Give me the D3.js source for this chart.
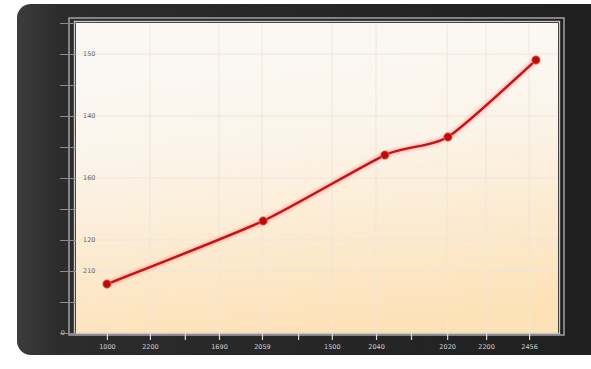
<!DOCTYPE html>
<html>
<head>
<meta charset="utf-8">
<script src="https://cdn.jsdelivr.net/npm/d3@7"></script>
<style>
html,body{margin:0;padding:0;background:#fff;}
svg{display:block;}
text{font-family:"DejaVu Sans",sans-serif;}
</style>
</head>
<body>
<svg id="chart" width="591" height="369"></svg>
<script>
// ---- data ----
const pointX = [0.77, 4.66, 7.69, 9.26, 11.45];
const pointY = [31.6, 72.3, 114.8, 126.5, 176.1];
const xTickValues = [0.77, 1.84, 2.71, 3.56, 4.63, 5.53, 6.37, 7.47, 8.34, 9.24, 10.21, 11.28];
const xTickLabels = ["1000", "2200", "", "1690", "2059", "", "1500", "2040", "", "2020", "2200", "2456"];
const yTickValues = [0, 20, 40, 60, 80, 100, 120, 140, 160, 180, 200];
const yLabelValues = [40, 60, 100, 140, 180];
const yLabelTexts = ["210", "120", "160", "140", "150"];

const svg = d3.select("#chart");
const defs = svg.append("defs");

// panel gradient
const pg = defs.append("linearGradient").attr("id","panel").attr("x1","0").attr("y1","0").attr("x2","1").attr("y2","0");
pg.append("stop").attr("offset","0").attr("stop-color","#3c3c3c");
pg.append("stop").attr("offset","0.07").attr("stop-color","#2c2c2c");
pg.append("stop").attr("offset","1").attr("stop-color","#1f1f1f");

// plot background gradient
const bg = defs.append("linearGradient").attr("id","bg").attr("x1","0.4").attr("y1","0.05").attr("x2","0.55").attr("y2","1");
bg.append("stop").attr("offset","0").attr("stop-color","#fbf8f4");
bg.append("stop").attr("offset","0.35").attr("stop-color","#fbf4ea");
bg.append("stop").attr("offset","1").attr("stop-color","#fde1b6");

const glow = defs.append("filter").attr("id","glow").attr("x","-10%").attr("y","-10%").attr("width","120%").attr("height","120%");
glow.append("feGaussianBlur").attr("stdDeviation","1.5");

// dark panel
svg.append("rect").attr("x",17).attr("y",4).attr("width",600).attr("height",351)
  .attr("rx",14).attr("fill","url(#panel)");

const L = 76, R = 558, T = 23, B = 333;
const x = d3.scaleLinear().domain([0,12]).range([L,R]);
const y = d3.scaleLinear().domain([0,200]).range([B,T]);

// plot background
svg.append("rect").attr("x",L).attr("y",T).attr("width",R-L).attr("height",B-T).attr("fill","url(#bg)");

// grid
const grid = svg.append("g");
grid.selectAll("line.h").data(yLabelValues).join("line")
  .attr("x1",L).attr("x2",R).attr("y1",d=>y(d)).attr("y2",d=>y(d))
  .attr("stroke","#ece5db").attr("stroke-width",1);
grid.selectAll("line.v").data(xTickValues.filter((d,i)=>xTickLabels[i]!=="" && i>0)).join("line")
  .attr("y1",T).attr("y2",B).attr("x1",d=>x(d)).attr("x2",d=>x(d))
  .attr("stroke","#eee6db").attr("stroke-width",1);

// frame (double lines)
svg.append("rect").attr("x",69).attr("y",18).attr("width",495).attr("height",317)
  .attr("fill","none").attr("stroke","#9a9a9a").attr("stroke-width",1.6);
svg.append("rect").attr("x",74.5).attr("y",21.5).attr("width",485).attr("height",312)
  .attr("fill","none").attr("stroke","#c8c8c8").attr("stroke-width",1.4);

// y axis ticks
const yAxis = d3.axisLeft(y).tickValues(yTickValues).tickSize(16).tickFormat("");
const ya = svg.append("g").attr("transform",`translate(${L},0)`).call(yAxis);
ya.select(".domain").remove();
ya.selectAll(".tick line").attr("stroke","#8a8a8a").attr("stroke-width",1);

// y labels inside
svg.append("g").selectAll("text").data(yLabelValues).join("text")
  .attr("x",83).attr("y",d=>y(d)).attr("dy","0.35em")
  .attr("font-size",6.5).attr("fill","#666")
  .text((d,i)=>yLabelTexts[i]);
svg.append("text").attr("x",65).attr("y",y(0)).attr("dy","0.35em").attr("text-anchor","end")
  .attr("font-size",6.5).attr("fill","#bbb").text("0");

// x axis
const xAxis = d3.axisBottom(x).tickValues(xTickValues).tickSize(7).tickPadding(4)
  .tickFormat((d,i)=>xTickLabels[i]);
const xa = svg.append("g").attr("transform",`translate(0,${B})`).call(xAxis);
xa.select(".domain").remove();
xa.selectAll(".tick line").attr("stroke","#d8d8d8").attr("stroke-width",1.2);
xa.selectAll(".tick text").attr("font-size",6.5).attr("fill","#d0d0d0")
  .attr("font-family","DejaVu Sans, sans-serif");

// line
const pts = pointX.map((d,i)=>[d, pointY[i]]);
const line = d3.line().x(d=>x(d[0])).y(d=>y(d[1])).curve(d3.curveCardinal.tension(0.4));
svg.append("path").attr("d",line(pts)).attr("fill","none")
  .attr("stroke","#ff8070").attr("stroke-width",5.5).attr("opacity",0.45).attr("filter","url(#glow)");
svg.append("path").attr("d",line(pts)).attr("fill","none")
  .attr("stroke","#c8101a").attr("stroke-width",2.4);

svg.append("g").selectAll("circle").data(pts).join("circle")
  .attr("cx",d=>x(d[0])).attr("cy",d=>y(d[1])).attr("r",4.2)
  .attr("fill","#bf0a0a").attr("stroke","#f07a70").attr("stroke-width",0.8);
</script>
</body>
</html>
